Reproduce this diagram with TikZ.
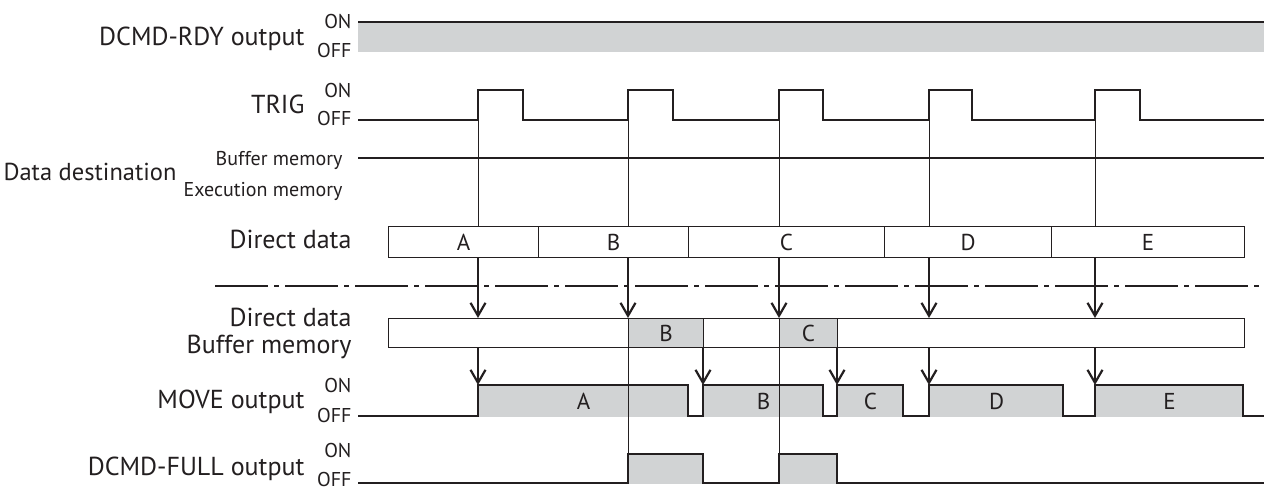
\documentclass[tikz,border=0pt]{standalone}
\usepackage{fontspec}
\setmainfont{PT Sans}
\usetikzlibrary{arrows.meta}
\definecolor{ink}{RGB}{35,31,32}
\definecolor{hold}{RGB}{209,211,212}

\begin{document}
\begin{tikzpicture}[x=1pt, y=-1pt, color=ink, line width=1.1pt,
    lbl/.style={font=\fontsize{26}{28}\selectfont, inner sep=0pt, anchor=base east},
    lvl/.style={font=\fontsize{20}{22}\selectfont, inner sep=0pt, anchor=base east},
    seg/.style={draw, minimum height=31pt, inner sep=0pt, anchor=north west,
                font=\fontsize{23}{25}\selectfont},
    cell/.style={draw, fill=hold, minimum height=29pt, inner sep=0pt, anchor=north west,
                 font=\fontsize{23}{25}\selectfont},
    hi/.style={fill=hold, minimum height=31pt, inner sep=0pt, anchor=north west,
               font=\fontsize{23}{25}\selectfont},
    arr/.style={-{Straight Barb[length=13pt, width=15pt]}, line width=2.2pt},
    guide/.style={line width=0.8pt},
  ]
  \useasboundingbox (0,0) rectangle (1264,488);
  % -- signal names --
  \node[lbl] (nRdy)  at (305,45)  {DCMD-RDY output};
  \node[lvl] (rdyOn) at (352,28)  {ON};
  \node[lvl] (rdyOf) at (352,57)  {OFF};
  \node[lbl] (nTrig) at (305,113) {TRIG};
  \node[lvl] (trOn)  at (352,97)  {ON};
  \node[lvl] (trOf)  at (352,125) {OFF};
  \node[lbl, font=\fontsize{24.5}{27}\selectfont, anchor=base west] (nDest) at (3,180) {Data destination};
  \node[lvl] (dBuf)  at (343,165) {Buffer memory};
  \node[lvl] (dExe)  at (343,196) {Execution memory};
  \node[lbl] (nDir)  at (352,248) {Direct data};
  \node[lbl] (nBuf1) at (352,326) {Direct data};
  \node[lbl] (nBuf2) at (352,353) {Buffer memory};
  \node[lbl] (nMove) at (305,408) {MOVE output};
  \node[lvl] (mvOn)  at (352,392) {ON};
  \node[lvl] (mvOf)  at (352,422) {OFF};
  \node[lbl] (nFull) at (305,475) {DCMD-FULL output};
  \node[lvl] (fuOn)  at (352,457) {ON};
  \node[lvl] (fuOf)  at (352,486) {OFF};

  % -- DCMD-RDY stays ON --
  \fill[hold] (358,22) rectangle (1264,52);
  \draw (358,22) -- (1264,22);
  % -- TRIG --
  \draw (358,120) \foreach \r/\f in {478/523, 628/673, 779/823, 929/972, 1095/1140}
        { -- (\r,120) -- (\r,90) -- (\f,90) -- (\f,120) } -- (1264,120);
  % -- data destination --
  \draw (358,158) -- (1264,158);

  % -- direct data --
  \foreach \a/\b/\n in {388/538/A, 538/688/B, 688/884/C, 884/1051/D, 1051/1244/E}
    \node[seg, minimum width=\b-\a] (d\n) at (\a,226) {\n};
  \draw[dash pattern=on 53pt off 6pt on 5pt off 6pt] (215,286) -- (1264,286);
  % -- buffer memory --
  \node[seg, minimum height=29pt, minimum width=856] (buf) at (388,318) {};
  \node[cell, minimum width=75] (bB) at (628,318) {B};
  \node[cell, minimum width=58] (bC) at (779,318) {C};

  % -- MOVE output --
  \foreach \a/\b/\n in {478/688/A, 703/823/B, 837/903/C, 929/1063/D, 1095/1243/E}
    \node[hi, minimum width=\b-\a] (mv\n) at (\a,385) {\n};
  \draw (358,416) \foreach \a/\b in {478/688, 703/823, 837/903, 929/1063, 1095/1243}
        { -- (\a,416) -- (\a,385) -- (\b,385) -- (\b,416) } -- (1264,416);
  % -- DCMD-FULL output --
  \node[hi, minimum height=29pt, minimum width=75] (fB) at (628,454) {};
  \node[hi, minimum height=29pt, minimum width=58] (fC) at (779,454) {};
  \draw (358,483) \foreach \a/\b in {628/703, 779/837}
        { -- (\a,483) -- (\a,454) -- (\b,454) -- (\b,483) } -- (1264,483);

  % -- timing marks and transfers --
  \foreach \i/\x in {1/478, 2/628, 3/779, 4/929, 5/1095}
    \coordinate (t\i) at (\x,90);
  \foreach \i in {1,...,5} {
    \draw[guide] (t\i) -- (t\i |- dA.north);
    \draw[arr] (t\i |- dA.south) -- (t\i |- buf.north);
  }
  \foreach \n in {A,...,E}
    \draw[arr] (mv\n.north west |- buf.south) -- (mv\n.north west);
  \draw[guide] (bB.south west) -- (fB.north west);
  \draw[guide] (bC.south west) -- (fC.north west);
\end{tikzpicture}
\end{document}
